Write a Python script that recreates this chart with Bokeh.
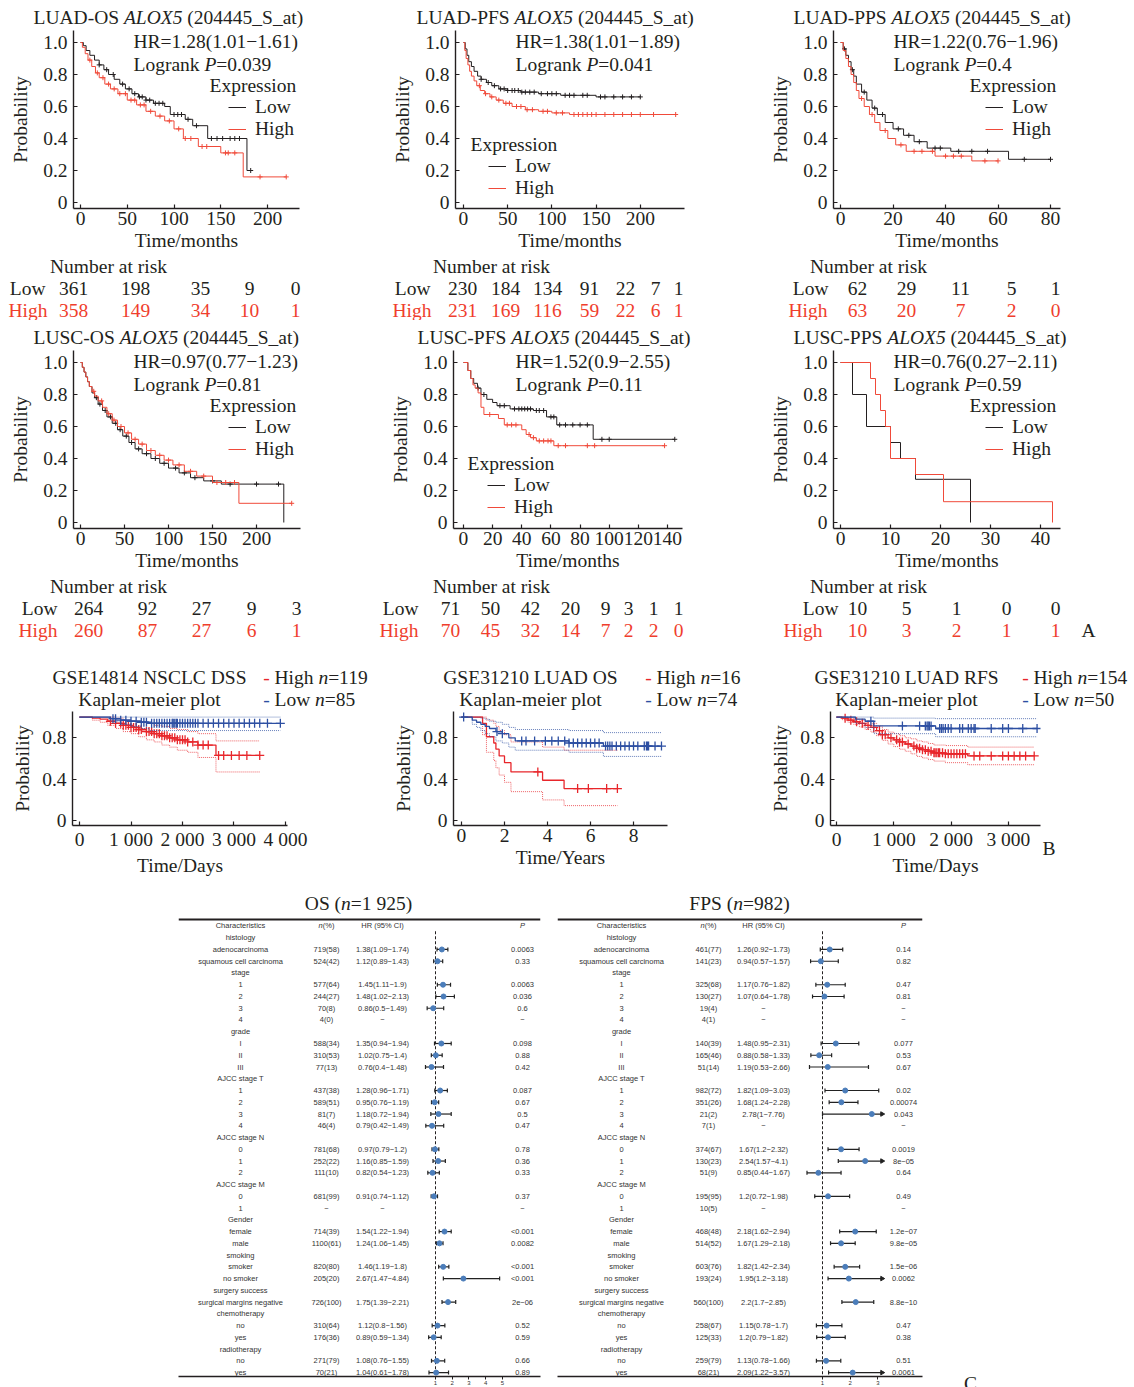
import numpy as np
from bokeh.plotting import figure
from bokeh.models import (Range1d, Label, Legend, LegendItem, FixedTicker, ColumnDataSource,
                          CustomJSTickFormatter, LinearAxis, Span)
from bokeh.layouts import column, row
from bokeh.embed import file_html
from bokeh.resources import INLINE
from bokeh.core.properties import value

# ======================= DATA =======================
# --- A: KM plots (time in months) ---
luad_os_low_t = [0, 3, 6, 10, 15, 20, 25, 30, 36, 42, 48, 55, 62, 70, 78, 90, 96, 112, 120, 136, 178]
luad_os_low_s = [1.0, 0.98, 0.95, 0.92, 0.89, 0.86, 0.83, 0.80, 0.77, 0.74, 0.71, 0.68, 0.66, 0.64, 0.62, 0.60, 0.55, 0.52, 0.48, 0.40, 0.20]
luad_os_low_c = [20, 28, 35, 45, 52, 58, 63, 66, 70, 74, 80, 84, 88, 100, 104, 108, 115, 124, 140, 146, 152, 160, 165, 170, 182]
luad_os_high_t = [0, 2, 5, 8, 12, 16, 20, 26, 32, 40, 50, 60, 70, 80, 90, 100, 110, 126, 150, 174]
luad_os_high_s = [1.0, 0.97, 0.93, 0.89, 0.85, 0.81, 0.78, 0.74, 0.71, 0.68, 0.64, 0.61, 0.57, 0.54, 0.51, 0.46, 0.40, 0.35, 0.31, 0.16]
luad_os_high_c = [10, 18, 24, 30, 36, 42, 48, 54, 58, 64, 68, 75, 85, 95, 105, 112, 118, 130, 135, 155, 158, 165, 192, 220]
luad_os_risk_low = [361, 198, 35, 9, 0]
luad_os_risk_high = [358, 149, 34, 10, 1]

luad_pfs_low_t = [0, 2, 4, 6, 9, 12, 16, 20, 26, 32, 40, 50, 65, 85, 110, 150]
luad_pfs_low_s = [1.0, 0.96, 0.92, 0.88, 0.85, 0.82, 0.79, 0.77, 0.75, 0.73, 0.71, 0.70, 0.69, 0.68, 0.67, 0.66]
luad_pfs_low_c = [20, 28, 35, 42, 46, 50, 55, 58, 62, 66, 70, 75, 80, 88, 95, 100, 105, 115, 120, 125, 135, 140, 155, 160, 170, 180, 190, 200]
luad_pfs_high_t = [0, 1.5, 3, 5, 7, 9, 12, 15, 19, 24, 30, 37, 45, 55, 70, 85, 100, 120]
luad_pfs_high_s = [1.0, 0.95, 0.90, 0.86, 0.82, 0.79, 0.76, 0.73, 0.70, 0.68, 0.66, 0.64, 0.62, 0.60, 0.58, 0.57, 0.56, 0.55]
luad_pfs_high_c = [18, 25, 32, 40, 48, 52, 60, 65, 72, 78, 90, 95, 105, 112, 125, 130, 135, 140, 145, 150, 160, 170, 180, 190, 200, 215, 240]
luad_pfs_risk_low = [230, 184, 134, 91, 22, 7, 1]
luad_pfs_risk_high = [231, 169, 116, 59, 22, 6, 1]

luad_pps_low_t = [0, 1, 2, 3, 4, 5, 6, 8, 10, 12, 14, 17, 20, 24, 28, 33, 42, 64]
luad_pps_low_s = [1.0, 0.96, 0.92, 0.88, 0.83, 0.79, 0.74, 0.69, 0.64, 0.59, 0.55, 0.50, 0.46, 0.42, 0.38, 0.34, 0.32, 0.27]
luad_pps_low_c = [1.5, 4.5, 9, 13, 16, 22, 26, 30, 36, 38, 45, 50, 56, 70, 80]
luad_pps_high_t = [0, 1, 2, 3, 4, 5, 6, 7, 9, 11, 13, 15, 18, 21, 25, 36, 50]
luad_pps_high_s = [1.0, 0.95, 0.90, 0.85, 0.80, 0.75, 0.70, 0.65, 0.60, 0.55, 0.50, 0.45, 0.40, 0.36, 0.32, 0.29, 0.26]
luad_pps_high_c = [8, 12, 17, 23, 28, 31, 35, 40, 43, 46, 55, 60]
luad_pps_risk_low = [62, 29, 11, 5, 1]
luad_pps_risk_high = [63, 20, 7, 2, 0]

lusc_os_low_t = [0, 2, 4, 6, 8, 10, 13, 16, 20, 25, 30, 36, 42, 48, 55, 62, 70, 80, 90, 100, 112, 125, 140, 160, 231]
lusc_os_low_s = [1.0, 0.97, 0.94, 0.91, 0.88, 0.85, 0.81, 0.78, 0.74, 0.70, 0.66, 0.62, 0.58, 0.54, 0.50, 0.46, 0.43, 0.40, 0.37, 0.34, 0.31, 0.28, 0.26, 0.24, 0.0]
lusc_os_low_c = [18, 22, 28, 34, 40, 45, 52, 58, 66, 75, 85, 95, 108, 118, 130, 150, 170, 200, 225]
lusc_os_high_t = [0, 2, 4, 6, 8, 10, 13, 16, 20, 25, 30, 36, 42, 50, 58, 66, 75, 85, 95, 105, 118, 132, 150, 180]
lusc_os_high_s = [1.0, 0.97, 0.94, 0.91, 0.88, 0.85, 0.82, 0.79, 0.76, 0.72, 0.68, 0.64, 0.60, 0.56, 0.52, 0.49, 0.45, 0.42, 0.39, 0.36, 0.32, 0.29, 0.25, 0.12]
lusc_os_high_c = [15, 24, 32, 38, 46, 54, 62, 70, 80, 90, 100, 112, 125, 140, 155, 165, 175, 240]
lusc_os_risk_low = [264, 92, 27, 9, 3]
lusc_os_risk_high = [260, 87, 27, 6, 1]

lusc_pfs_low_t = [0, 3, 5, 7, 9.6, 12, 16, 20, 23, 32, 48, 57, 64, 89]
lusc_pfs_low_s = [1.0, 0.95, 0.90, 0.87, 0.84, 0.80, 0.77, 0.75, 0.73, 0.71, 0.70, 0.66, 0.61, 0.52]
lusc_pfs_low_c = [10, 14, 25, 28, 35, 38, 40, 42, 44, 46, 50, 52, 55, 60, 62, 66, 70, 75, 80, 85, 95, 100, 145]
lusc_pfs_high_t = [0, 3, 5, 6.5, 8, 10, 12, 14, 24, 28, 40, 43, 46, 50, 62]
lusc_pfs_high_s = [1.0, 0.95, 0.90, 0.86, 0.84, 0.81, 0.72, 0.675, 0.65, 0.61, 0.58, 0.55, 0.53, 0.51, 0.48]
lusc_pfs_high_c = [18, 30, 33, 36, 45, 48, 52, 55, 58, 60, 65, 70, 85, 90, 138]
lusc_pfs_risk_low = [71, 50, 42, 20, 9, 3, 1, 1]
lusc_pfs_risk_high = [70, 45, 32, 14, 7, 2, 2, 0]

lusc_pps_low_t = [0, 2.4, 5.2, 10, 12, 15, 26]
lusc_pps_low_s = [1.0, 0.8, 0.6, 0.5, 0.4, 0.27, 0.0]
lusc_pps_low_c = []
lusc_pps_high_t = [0, 6, 7, 8, 9, 10, 15, 20.6, 42.4]
lusc_pps_high_s = [1.0, 0.9, 0.8, 0.7, 0.6, 0.4, 0.3, 0.13, 0.0]
lusc_pps_high_c = []
lusc_pps_risk_low = [10, 5, 1, 0, 0]
lusc_pps_risk_high = [10, 3, 2, 1, 1]

# --- B: GEO KM plots ---
g14814_high_t = [0, 250, 400, 550, 700, 850, 1000, 1150, 1300, 1450, 1600, 1750, 1900, 2100, 2300, 2650]
g14814_high_s = [1.0, 0.99, 0.98, 0.96, 0.94, 0.92, 0.90, 0.88, 0.86, 0.84, 0.82, 0.80, 0.78, 0.76, 0.73, 0.63]
g14814_high_lo = [1.0, 0.97, 0.95, 0.92, 0.89, 0.86, 0.84, 0.81, 0.78, 0.76, 0.73, 0.71, 0.68, 0.66, 0.61, 0.47]
g14814_high_hi = [1.0, 1.0, 1.0, 1.0, 0.99, 0.97, 0.96, 0.95, 0.94, 0.92, 0.91, 0.89, 0.88, 0.86, 0.84, 0.77]
g14814_high_c = [600, 700, 800, 850, 900, 950, 1000, 1050, 1100, 1150, 1200, 1300, 1350, 1400, 1450, 1500, 1550, 1600, 1650, 1700,
                 1750, 1800, 1850, 1900, 1950, 2000, 2050, 2100, 2200, 2300, 2400, 2500, 2700, 2800, 2950, 3100, 3250, 3500]
g14814_low_t = [0, 600, 800, 1000, 1200, 1350]
g14814_low_s = [1.0, 0.985, 0.97, 0.96, 0.95, 0.94]
g14814_low_lo = [1.0, 0.96, 0.93, 0.91, 0.89, 0.87]
g14814_low_hi = [1.0, 1.0, 1.0, 1.0, 1.0, 1.0]
g14814_low_c = [650, 700, 800, 900, 1000, 1100, 1200, 1250, 1300, 1400, 1450, 1500, 1550, 1600, 1650, 1700, 1750, 1800, 1820, 1850,
                1880, 1900, 1950, 2000, 2050, 2100, 2150, 2200, 2250, 2300, 2400, 2500, 2600, 2700, 2800, 2900, 3000, 3100, 3200,
                3300, 3400, 3500, 3650, 3900]

g31210os_high_t = [0, 0.98, 1.16, 1.5, 1.6, 1.75, 2.0, 2.3, 3.77, 4.77]
g31210os_high_s = [1.0, 0.94, 0.81, 0.75, 0.69, 0.625, 0.56, 0.47, 0.39, 0.31]
g31210os_high_lo = [1.0, 0.83, 0.66, 0.58, 0.51, 0.44, 0.37, 0.28, 0.20, 0.145]
g31210os_high_hi = [1.0, 1.0, 0.97, 0.94, 0.91, 0.87, 0.83, 0.76, 0.71, 0.68]
g31210os_high_c = [3.55, 5.4, 5.9, 6.75, 7.25]
g31210os_low_t = [0, 0.5, 0.7, 0.9, 1.1, 1.3, 1.6, 1.9, 2.2, 2.5, 5.0, 6.6]
g31210os_low_s = [1.0, 0.97, 0.95, 0.93, 0.91, 0.89, 0.86, 0.84, 0.80, 0.77, 0.75, 0.72]
g31210os_low_lo = [1.0, 0.93, 0.90, 0.87, 0.84, 0.81, 0.77, 0.75, 0.71, 0.68, 0.66, 0.62]
g31210os_low_hi = [1.0, 1.0, 1.0, 0.99, 0.98, 0.96, 0.95, 0.93, 0.90, 0.88, 0.87, 0.85]
g31210os_low_c = [0.1, 1.65, 1.9, 2.8, 3.0, 3.4, 3.9, 4.2, 4.5, 4.8, 5.0, 5.2, 5.4, 5.6, 5.8, 6.0, 6.2, 6.4, 6.7, 6.8, 6.9,
                  7.0, 7.2, 7.4, 7.6, 7.8, 8.0, 8.2, 8.5, 8.6, 8.65, 8.7, 9.0, 9.3]

g31210rfs_high_t = [0, 100, 200, 300, 400, 500, 600, 700, 800, 900, 1000, 1100, 1200, 1300, 1400, 1500, 1600, 1700, 1900, 2290]
g31210rfs_high_s = [1.0, 0.99, 0.97, 0.955, 0.94, 0.92, 0.90, 0.87, 0.83, 0.80, 0.78, 0.76, 0.74, 0.72, 0.70, 0.685, 0.67, 0.655, 0.645, 0.625]
g31210rfs_high_lo = [1.0, 0.975, 0.95, 0.93, 0.905, 0.88, 0.855, 0.82, 0.775, 0.74, 0.715, 0.69, 0.67, 0.645, 0.62, 0.605, 0.59, 0.575, 0.56, 0.54]
g31210rfs_high_hi = [1.0, 1.0, 0.99, 0.98, 0.97, 0.955, 0.94, 0.915, 0.88, 0.855, 0.84, 0.82, 0.80, 0.79, 0.77, 0.76, 0.745, 0.73, 0.725, 0.71]
g31210rfs_high_c = [150, 250, 350, 450, 550, 650, 750, 800, 850, 950, 1050, 1100, 1150, 1250, 1350, 1400, 1450, 1500, 1550, 1600,
                    1650, 1700, 1720, 1750, 1780, 1800, 1850, 1900, 1950, 2000, 2050, 2100, 2150, 2200, 2250, 2400, 2500, 2700,
                    2900, 3000, 3100, 3200, 3300, 3450]
g31210rfs_low_t = [0, 330, 500, 650, 1730]
g31210rfs_low_s = [1.0, 0.98, 0.96, 0.915, 0.89]
g31210rfs_low_lo = [1.0, 0.94, 0.90, 0.84, 0.81]
g31210rfs_low_hi = [1.0, 1.0, 1.0, 0.99, 0.985]
g31210rfs_low_c = [600, 1150, 1450, 1550, 1580, 1600, 1620, 1650, 1800, 1830, 1860, 1900, 1950, 2000, 2150, 2200, 2300, 2350,
                   2400, 2420, 2700, 2900, 3000, 3250, 3500]

# --- C: forest plots ---
forest_groups = [
    ("histology", ["adenocarcinoma", "squamous cell carcinoma"]),
    ("stage", ["1", "2", "3", "4"]),
    ("grade", ["I", "II", "III"]),
    ("AJCC stage T", ["1", "2", "3", "4"]),
    ("AJCC stage N", ["0", "1", "2"]),
    ("AJCC stage M", ["0", "1"]),
    ("Gender", ["female", "male"]),
    ("smoking", ["smoker", "no smoker"]),
    ("surgery success", ["surgical margins negative"]),
    ("chemotherapy", ["no", "yes"]),
    ("radiotherapy", ["no", "yes"]),
]
os_n = [719, 524, 577, 244, 70, 4, 588, 310, 77, 437, 589, 81, 46, 781, 252, 111, 681, None, 714, 1100, 820, 205, 726, 310, 176, 271, 70]
os_pct = [58, 42, 64, 27, 8, 0, 34, 53, 13, 38, 51, 7, 4, 68, 22, 10, 99, None, 39, 61, 80, 20, 100, 64, 36, 79, 21]
os_hr = [1.38, 1.12, 1.45, 1.48, 0.86, None, 1.35, 1.02, 0.76, 1.28, 0.95, 1.18, 0.79, 0.97, 1.16, 0.82, 0.91, None, 1.54, 1.24, 1.46, 2.67, 1.75, 1.12, 0.89, 1.08, 1.04]
os_lo = [1.09, 0.89, 1.11, 1.02, 0.5, None, 0.94, 0.75, 0.4, 0.96, 0.76, 0.72, 0.42, 0.79, 0.85, 0.54, 0.74, None, 1.22, 1.06, 1.19, 1.47, 1.39, 0.8, 0.59, 0.76, 0.61]
os_hi = [1.74, 1.43, 1.9, 2.13, 1.49, None, 1.94, 1.4, 1.48, 1.71, 1.19, 1.94, 1.49, 1.2, 1.59, 1.23, 1.12, None, 1.94, 1.45, 1.8, 4.84, 2.21, 1.56, 1.34, 1.55, 1.78]
os_p = ["0.0063", "0.33", "0.0063", "0.036", "0.6", "−", "0.098", "0.88", "0.42", "0.087", "0.67", "0.5", "0.47", "0.78", "0.36",
        "0.33", "0.37", "−", "<0.001", "0.0082", "<0.001", "<0.001", "2e−06", "0.52", "0.59", "0.66", "0.89"]

fps_n = [461, 141, 325, 130, 19, 4, 140, 165, 51, 982, 351, 21, 7, 374, 130, 51, 195, 10, 468, 514, 603, 193, 560, 258, 125, 259, 68]
fps_pct = [77, 23, 68, 27, 4, 1, 39, 46, 14, 72, 26, 2, 1, 67, 23, 9, 95, 5, 48, 52, 76, 24, 100, 67, 33, 79, 21]
fps_hr = [1.26, 0.94, 1.17, 1.07, None, None, 1.48, 0.88, 1.19, 1.82, 1.68, 2.78, None, 1.67, 2.54, 0.85, 1.2, None, 2.18, 1.67, 1.82, 1.95, 2.2, 1.15, 1.2, 1.13, 2.09]
fps_lo = [0.92, 0.57, 0.76, 0.64, None, None, 0.95, 0.58, 0.53, 1.09, 1.24, 1.0, None, 1.2, 1.57, 0.44, 0.72, None, 1.62, 1.29, 1.42, 1.2, 1.7, 0.78, 0.79, 0.78, 1.22]
fps_hi = [1.73, 1.57, 1.82, 1.78, None, None, 2.31, 1.33, 2.66, 3.03, 2.28, 7.76, None, 2.32, 4.1, 1.67, 1.98, None, 2.94, 2.18, 2.34, 3.18, 2.85, 1.7, 1.82, 1.66, 3.57]
fps_p = ["0.14", "0.82", "0.47", "0.81", "−", "−", "0.077", "0.53", "0.67", "0.02", "0.00074", "0.043", "−", "0.0019", "8e−05",
         "0.64", "0.49", "−", "1.2e−07", "9.8e−05", "1.5e−06", "0.0062", "8.8e−10", "0.47", "0.38", "0.51", "0.0061"]

# ======================= STYLE =======================
SERIF = "Liberation Serif"
SANS = "Liberation Sans"
FSZ = 19.5
INK = "#231f20"
KM_BLACK = "#231f20"
KM_RED = "#f04a3a"
RISK_RED = "#ef3e2d"
B_RED = "#e8262b"
B_BLUE = "#2d4fa2"
DOT = "#4b7dba"
F_INK = "#333333"
F_FS = "7.5px"
F, T = False, True

_TW = {' ': 250, '(': 333, ')': 333, '-': 333, '.': 250, '/': 278, '=': 564, '_': 500, '−': 564, '%': 833}
for _c in "0123456789":
    _TW[_c] = 500
_TW.update(dict(zip("ABCDEFGHIJKLMNOPQRSTUVWXYZ",
                    [722, 667, 667, 722, 611, 556, 722, 722, 333, 389, 722, 611, 889, 722, 722, 556, 722, 667, 556, 611, 722, 722, 944, 722, 722, 611])))
_TW.update(dict(zip("abcdefghijklmnopqrstuvwxyz",
                    [444, 500, 444, 500, 444, 333, 500, 500, 278, 278, 500, 278, 778, 500, 500, 500, 500, 333, 389, 278, 500, 500, 722, 500, 500, 444])))
_TWI = {'A': 611, 'L': 556, 'O': 722, 'X': 611, 'P': 611, 'n': 500}


def tw(s, size, italic=False):
    w = 0
    for ch in s:
        w += _TWI.get(ch, _TW.get(ch, 500)) if italic else _TW.get(ch, 500)
    return w * size / 1000.0


def rich(obj, px, py, pieces, size=FSZ, color=INK, align="left"):
    widths = [tw(t, size, it) for t, it in pieces]
    total = sum(widths)
    x = px - (total / 2 if align == "center" else (total if align == "right" else 0))
    for (t, it), w in zip(pieces, widths):
        lead = len(t) - len(t.lstrip(' '))
        obj.label(x + lead * 250 * size / 1000.0, py, t.strip(' '), size=size,
                  style="italic" if it else "normal", color=color)
        x += w


def bare_fig(w, h, xr, yr, borders, axes):
    kw = {} if axes else dict(x_axis_location=None, y_axis_location=None)
    p = figure(width=w, height=h, x_range=Range1d(*xr), y_range=Range1d(*yr),
               output_backend="svg", toolbar_location=None,
               min_border_left=borders[0], min_border_right=borders[1],
               min_border_top=borders[2], min_border_bottom=borders[3], **kw)
    p.outline_line_color = None
    p.xgrid.visible = False
    p.ygrid.visible = False
    p.background_fill_color = "white"
    p.border_fill_color = "white"
    return p


class Strip:
    """A text-only band: its frame covers the whole figure, coordinates in page pixels."""
    def __init__(self, ox, oy, w, h):
        self.ox, self.oy, self.w, self.h = ox, oy, w, h
        p = figure(frame_width=w, frame_height=h, x_range=Range1d(0, w), y_range=Range1d(h, 0),
                   output_backend="svg", toolbar_location=None, min_border=0,
                   min_border_left=0, min_border_right=0, min_border_top=0, min_border_bottom=0,
                   x_axis_location=None, y_axis_location=None)
        p.outline_line_color = None
        p.xgrid.visible = False
        p.ygrid.visible = False
        p.grid.grid_line_color = None
        p.background_fill_color = "white"
        p.border_fill_color = "white"
        self.p = p
        self.items = {}

    def label(self, px, py, s, size=FSZ, font=SERIF, style="normal", color=INK, align="left"):
        key = (font, size, style, align)
        d = self.items.setdefault(key, dict(x=[], y=[], text=[], color=[]))
        d["x"].append(px - self.ox)
        d["y"].append(py - self.oy)
        d["text"].append(s)
        d["color"].append(color)

    def flush(self):
        for (font, size, style, align), d in self.items.items():
            self.p.text(x="x", y="y", text="text", text_color="color", source=ColumnDataSource(d),
                        text_font=value(font), text_font_size=value(f"{size}px"),
                        text_font_style=style, text_align=align, text_baseline="middle")
        return self.p


class Panel:
    def __init__(self, ox, oy, w, h, fl, fr, ft, fb, xr, yr, axes=True):
        self.fl, self.fr, self.ft, self.fb = fl, fr, ft, fb
        self.xr, self.yr = xr, yr
        self.p = bare_fig(w, h, xr, yr, (fl - ox, ox + w - fr, ft - oy, oy + h - fb), axes)

    def dx(self, px):
        return self.xr[0] + (px - self.fl) / (self.fr - self.fl) * (self.xr[1] - self.xr[0])

    def dy(self, py):
        return self.yr[0] + (self.fb - py) / (self.fb - self.ft) * (self.yr[1] - self.yr[0])

    def label(self, px, py, s, size=FSZ, font=SERIF, style="normal", color=INK, align="left"):
        self.p.add_layout(Label(x=self.dx(px), y=self.dy(py), text=s, text_font=font,
                                text_font_size=f"{size}px", text_font_style=style, text_color=color,
                                text_align=align, text_baseline="middle"))


YFMT = "return tick == 0 ? '0' : tick.toFixed(1);"
XFMT = "if (tick >= 1000) { return String(Math.floor(tick/1000)) + ' ' + String(tick % 1000).padStart(3, '0'); } return String(tick);"


def style_axes(P, xticks, yticks, xlabel, ylab_standoff=9):
    p = P.p
    xa, ya = p.xaxis[0], p.yaxis[0]
    xa.ticker = FixedTicker(ticks=xticks)
    ya.ticker = FixedTicker(ticks=yticks)
    ya.formatter = CustomJSTickFormatter(code=YFMT)
    xa.formatter = CustomJSTickFormatter(code=XFMT)
    for ax in (xa, ya):
        ax.axis_line_color = INK
        ax.axis_line_width = 1.4
        ax.major_tick_line_color = INK
        ax.major_tick_line_width = 1.2
        ax.major_tick_in = 4
        ax.major_tick_out = 0
        ax.minor_tick_line_color = None
        ax.major_label_text_font = SERIF
        ax.major_label_text_font_size = f"{FSZ}px"
        ax.major_label_text_color = INK
        ax.axis_label_text_font = SERIF
        ax.axis_label_text_font_size = f"{FSZ}px"
        ax.axis_label_text_font_style = "normal"
        ax.axis_label_text_color = INK
    xa.axis_label = xlabel
    ya.axis_label = "Probability"
    xa.major_label_standoff = 3
    xa.axis_label_standoff = 2
    ya.major_label_standoff = 6
    ya.axis_label_standoff = ylab_standoff


def km_curve(P, t, s, cens, color, width=1.0, mark_size=5):
    t = np.asarray(t, float)
    s = np.asarray(s, float)
    last = max([t[-1]] + list(cens))
    xs = np.append(t, last)
    ys = np.append(s, s[-1])
    r = P.p.step(x=xs, y=ys, mode="after", line_color=color, line_width=width)
    if len(cens):
        c = np.asarray(cens, float)
        sc = s[np.searchsorted(t, c, side="right") - 1]
        P.p.scatter(x=c, y=sc, marker="cross", size=mark_size, line_color=color, line_width=width)
    return r, last


def ci_curve(P, t, v, end, color):
    xs = np.append(np.asarray(t, float), end)
    ys = np.append(np.asarray(v, float), v[-1])
    P.p.step(x=xs, y=ys, mode="after", line_color=color, line_width=0.9, line_dash="1 1", line_alpha=0.8)


def km_legend(P, r_low, r_high, line_left, y_low):
    leg = Legend(items=[LegendItem(label="Low", renderers=[r_low]),
                        LegendItem(label="High", renderers=[r_high])],
                 location=(line_left - P.fl, P.fb - (y_low + 33)),
                 glyph_width=18, glyph_height=22, label_height=22, label_standoff=9,
                 padding=0, spacing=0, margin=0, border_line_color=None,
                 background_fill_alpha=0, label_text_font=SERIF,
                 label_text_font_size=f"{FSZ}px", label_text_color=INK)
    P.p.add_layout(leg)


YT_KM = [0, 0.2, 0.4, 0.6, 0.8, 1.0]
YR_KM = (-0.0375, 1.075)

# strips of text
T1 = Strip(0, 0, 1134, 30)
R1 = Strip(0, 256, 1134, 64)
T2 = Strip(0, 320, 1134, 30)
R2 = Strip(0, 576, 1134, 72)
T3 = Strip(0, 648, 1134, 63)
BT = Strip(1041, 711, 93, 167)
T4 = Strip(0, 878, 1134, 36)
CT = Strip(925, 914, 209, 473)


def km_block(geom, base, xr, xticks, curves, title, hr_txt, p_txt, tx, hx, expr, leg, risk, tstrip, rstrip):
    P = Panel(*geom, xr, YR_KM)
    style_axes(P, xticks, YT_KM, "Time/months")
    (lt, ls, lc), (ht, hs, hc) = curves
    rl, _ = km_curve(P, lt, ls, lc, KM_BLACK)
    rh, _ = km_curve(P, ht, hs, hc, KM_RED)
    rich(tstrip, tx, base + 17, [(title, F), ("ALOX5", T), (" (204445_S_at)", F)])
    P.label(hx, base + 41, hr_txt)
    rich(P, hx, base + 64, [("Logrank ", F), ("P", T), (p_txt, F)])
    P.label(expr[0], base + expr[1], "Expression")
    km_legend(P, rl, rh, leg[0], base + leg[1])
    head_x, low_right, high_right, xs, low_vals, high_vals = risk
    rstrip.label(head_x, base + 266, "Number at risk", align="center")
    rstrip.label(low_right, base + 288, "Low", align="right")
    rstrip.label(high_right, base + 310, "High", align="right", color=RISK_RED)
    for x, v in zip(xs, low_vals):
        rstrip.label(x, base + 288, str(v), align="center")
    for x, v in zip(xs, high_vals):
        rstrip.label(x, base + 310, str(v), align="center", color=RISK_RED)
    return P


A1 = km_block((0, 30, 380, 226, 73, 299, 30, 208), 0, (-7.5, 234.2), [0, 50, 100, 150, 200],
              ((luad_os_low_t, luad_os_low_s, luad_os_low_c), (luad_os_high_t, luad_os_high_s, luad_os_high_c)),
              "LUAD-OS ", "HR=1.28(1.01−1.61)", "=0.039", 33, 133, (209, 85), (228, 107),
              (108, 45, 47, [73, 135, 200, 249, 295], luad_os_risk_low, luad_os_risk_high), T1, R1)
A2 = km_block((380, 30, 380, 226, 455, 684, 30, 208), 0, (-9, 250), [0, 50, 100, 150, 200],
              ((luad_pfs_low_t, luad_pfs_low_s, luad_pfs_low_c), (luad_pfs_high_t, luad_pfs_high_s, luad_pfs_high_c)),
              "LUAD-PFS ", "HR=1.38(1.01−1.89)", "=0.041", 416, 515, (470, 144), (488, 166),
              (491, 430, 431, [462, 505, 547, 589, 625, 655, 678], luad_pfs_risk_low, luad_pfs_risk_high), T1, R1)
A3 = km_block((760, 30, 374, 226, 833, 1060, 30, 208), 0, (-2.7, 83.8), [0, 20, 40, 60, 80],
              ((luad_pps_low_t, luad_pps_low_s, luad_pps_low_c), (luad_pps_high_t, luad_pps_high_s, luad_pps_high_c)),
              "LUAD-PPS ", "HR=1.22(0.76−1.96)", "=0.4", 793, 893, (969, 85), (985, 107),
              (868, 828, 827, [857, 906, 960, 1011, 1055], luad_pps_risk_low, luad_pps_risk_high), T1, R1)
A4 = km_block((0, 350, 380, 226, 73, 300, 350, 528), 320, (-8, 250), [0, 50, 100, 150, 200],
              ((lusc_os_low_t, lusc_os_low_s, lusc_os_low_c), (lusc_os_high_t, lusc_os_high_s, lusc_os_high_c)),
              "LUSC-OS ", "HR=0.97(0.77−1.23)", "=0.81", 33, 133, (209, 85), (228, 107),
              (108, 57, 57, [88, 147, 201, 251, 296], lusc_os_risk_low, lusc_os_risk_high), T2, R2)
A5 = km_block((380, 350, 380, 226, 453, 682, 350, 528), 320, (-6.86, 150.3), [0, 20, 40, 60, 80, 100, 120, 140],
              ((lusc_pfs_low_t, lusc_pfs_low_s, lusc_pfs_low_c), (lusc_pfs_high_t, lusc_pfs_high_s, lusc_pfs_high_c)),
              "LUSC-PFS ", "HR=1.52(0.9−2.55)", "=0.11", 417, 515, (467, 143), (487, 165),
              (491, 418, 418, [450, 490, 530, 570, 605, 628, 653, 678], lusc_pfs_risk_low, lusc_pfs_risk_high), T2, R2)
A6 = km_block((760, 350, 374, 226, 833, 1060, 350, 528), 320, (-1.4, 44.0), [0, 10, 20, 30, 40],
              ((lusc_pps_low_t, lusc_pps_low_s, lusc_pps_low_c), (lusc_pps_high_t, lusc_pps_high_s, lusc_pps_high_c)),
              "LUSC-PPS ", "HR=0.76(0.27−2.11)", "=0.59", 793, 893, (969, 85), (985, 107),
              (868, 838, 822, [857, 906, 956, 1006, 1055], lusc_pps_risk_low, lusc_pps_risk_high), T2, R2)
R2.label(1088, 630, "A", align="center")

# ---------------- B row ----------------
YR_B = (-0.047, 1.054)


def geo_block(geom, xr, xticks, xlabel, high, low, title, ncount, cx, dash_x):
    P = Panel(*geom, xr, YR_B)
    style_axes(P, xticks, [0, 0.4, 0.8], xlabel, ylab_standoff=6)
    for (t, s, lo, hi, c), col in ((high, B_RED), (low, B_BLUE)):
        _, end = km_curve(P, t, s, c, col, width=1.3, mark_size=9)
        ci_curve(P, t, lo, end, col)
        ci_curve(P, t, hi, end, col)
    T3.label(cx, 677, title, align="center")
    T3.label(cx, 699, "Kaplan-meier plot", align="center")
    T3.label(dash_x, 677, "-", color=B_RED, align="center")
    rich(T3, dash_x + 8, 677, [("High ", F), ("n", T), (f"={ncount[0]}", F)])
    T3.label(dash_x, 699, "-", color=B_BLUE, align="center")
    rich(T3, dash_x + 8, 699, [("Low ", F), ("n", T), (f"={ncount[1]}", F)])
    return P


B1 = geo_block((0, 711, 380, 167, 72, 287, 711, 828), (-136, 4039), [0, 1000, 2000, 3000, 4000], "Time/Days",
               (g14814_high_t, g14814_high_s, g14814_high_lo, g14814_high_hi, g14814_high_c),
               (g14814_low_t, g14814_low_s, g14814_low_lo, g14814_low_hi, g14814_low_c),
               "GSE14814 NSCLC DSS", (119, 85), 149, 266)
B2 = geo_block((380, 711, 380, 167, 453, 667, 711, 828), (-0.372, 9.58), [0, 2, 4, 6, 8], "Time/Years",
               (g31210os_high_t, g31210os_high_s, g31210os_high_lo, g31210os_high_hi, g31210os_high_c),
               (g31210os_low_t, g31210os_low_s, g31210os_low_lo, g31210os_low_hi, g31210os_low_c),
               "GSE31210 LUAD OS", (16, 74), 530, 648)
B3 = geo_block((760, 711, 281, 167, 830, 1040, 711, 828), (-105, 3560), [0, 1000, 2000, 3000], "Time/Days",
               (g31210rfs_high_t, g31210rfs_high_s, g31210rfs_high_lo, g31210rfs_high_hi, g31210rfs_high_c),
               (g31210rfs_low_t, g31210rfs_low_s, g31210rfs_low_lo, g31210rfs_low_hi, g31210rfs_low_c),
               "GSE31210 LUAD RFS", (154, 50), 906, 1025)
BT.label(1042, 848, "B")

# ---------------- C row ----------------
YR_C = (38.33, -0.72)


def forest_block(geom, xr, cols, hr_range, clip, ticks, n, pct, hr, lo, hi, pv, title, tcx):
    P = Panel(*geom, xr, YR_C, axes=False)
    p = P.p
    p.extra_x_ranges = {"hr": Range1d(*hr_range)}
    names, ys, item_y = [], [], []
    yy = 1
    for g, items in forest_groups:
        names.append(g); ys.append(yy); yy += 1
        for it in items:
            names.append(it); ys.append(yy); item_y.append(yy); yy += 1
    txt = dict(text_font=value(SANS), text_font_size=value(F_FS), text_color=F_INK,
               text_align="center", text_baseline="middle")
    p.text(x=cols[0], y=ys, text=names, **txt)
    nstr = ["−" if v is None else f"{v}({q})" for v, q in zip(n, pct)]
    hstr = ["−" if h is None else f"{h:g}({l:g}−{u:g})" for h, l, u in zip(hr, lo, hi)]
    p.text(x=cols[1], y=item_y, text=nstr, **txt)
    p.text(x=cols[2], y=item_y, text=hstr, **txt)
    p.text(x=cols[3], y=item_y, text=list(pv), **txt)
    p.text(x=cols[0], y=[0], text=["Characteristics"], **txt)
    p.text(x=cols[2], y=[0], text=["HR (95% CI)"], **txt)
    hd = dict(txt); hd["text_align"] = "left"
    p.text(x=cols[1] - 7.9, y=[0], text=["n"], text_font_style="italic", **hd)
    p.text(x=cols[1] - 3.7, y=[0], text=["(%)"], **hd)
    p.text(x=cols[3], y=[0], text=["P"], text_font_style="italic", **txt)
    sel = [i for i, h in enumerate(hr) if h is not None]
    fy = [item_y[i] for i in sel]
    fh = [hr[i] for i in sel]
    flo = [lo[i] for i in sel]
    fhi = [hi[i] for i in sel]
    fhc = [min(u, clip) for u in fhi]
    p.segment(x0=[1], y0=[0.45], x1=[1], y1=[YR_C[0]], x_range_name="hr",
              line_color=INK, line_width=1, line_dash="3 2")
    p.segment(x0=flo, y0=fy, x1=fhc, y1=fy, x_range_name="hr", line_color="#222222", line_width=1.2)
    capx = flo + [u for u in fhi if u <= clip]
    capy = fy + [y for y, u in zip(fy, fhi) if u <= clip]
    p.scatter(x=capx, y=capy, marker="dash", angle=np.pi / 2, size=4, line_color="#222222",
              line_width=1.2, x_range_name="hr")
    arr_y = [y for y, u in zip(fy, fhi) if u > clip]
    if arr_y:
        p.scatter(x=[clip] * len(arr_y), y=arr_y, marker="triangle", angle=-np.pi / 2, size=4.5,
                  fill_color="#222222", line_color="#222222", x_range_name="hr")
    p.scatter(x=fh, y=fy, marker="circle", size=5, fill_color=DOT, line_color=DOT, x_range_name="hr")
    ax = LinearAxis(x_range_name="hr", ticker=FixedTicker(ticks=ticks))
    ax.axis_line_color = INK
    ax.axis_line_width = 1.5
    ax.major_tick_in = 0
    ax.major_tick_out = 3
    ax.major_tick_line_color = INK
    ax.minor_tick_line_color = None
    ax.major_label_text_font = SANS
    ax.major_label_text_font_size = "6px"
    ax.major_label_text_color = F_INK
    ax.major_label_standoff = 1
    p.add_layout(ax, "below")
    p.add_layout(Span(location=-0.55, dimension="width", line_color=INK, line_width=2))
    rich(T4, tcx, 903, title, align="center")
    return P


C1 = forest_block((0, 914, 549, 473, 178, 540, 917, 1377), (0, 362), (62, 148, 204, 344), (-14.389, 7.287), 10.0,
                  [1, 2, 3, 4, 5], os_n, os_pct, os_hr, os_lo, os_hi, os_p,
                  [("OS (", F), ("n", T), ("=1 925)", F)], 358)
C2 = forest_block((549, 914, 376, 473, 557, 922, 917, 1377), (0, 365), (64, 151, 206, 346), (-8.567, 4.610), 3.15,
                  [1, 2, 3], fps_n, fps_pct, fps_hr, fps_lo, fps_hi, fps_p,
                  [("FPS (", F), ("n", T), ("=982)", F)], 739)
CT.label(970, 1380, "C", align="center")

layout = column(
    T1.flush(),
    row(A1.p, A2.p, A3.p),
    R1.flush(),
    T2.flush(),
    row(A4.p, A5.p, A6.p),
    R2.flush(),
    T3.flush(),
    row(B1.p, B2.p, B3.p, BT.flush()),
    T4.flush(),
    row(C1.p, C2.p, CT.flush()),
)

open("out.html", "w").write(file_html(layout, INLINE))
